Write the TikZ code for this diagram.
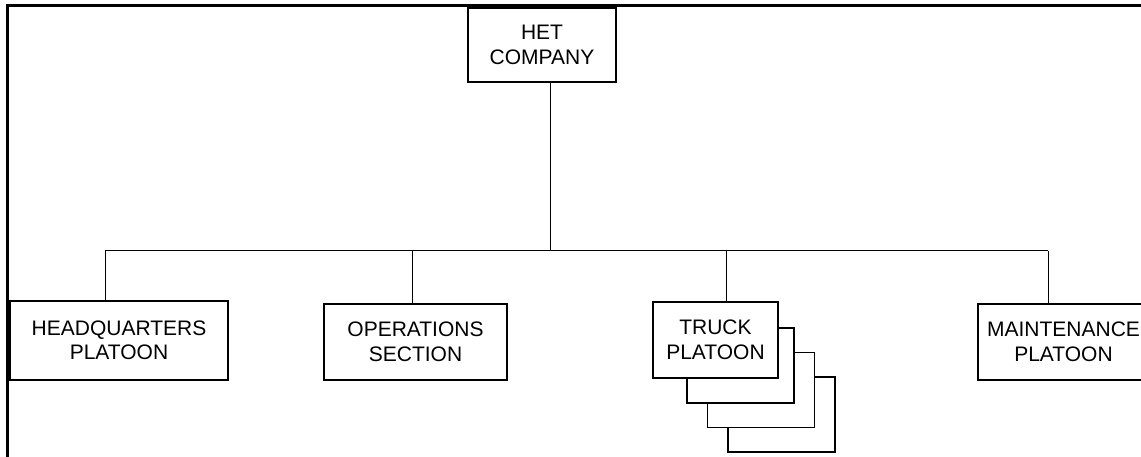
\documentclass[tikz,border=0pt]{standalone}
\usepackage{fontspec}
\setmainfont{Liberation Sans}

\begin{document}
\begin{tikzpicture}[x=1pt,y=-1pt,
    unit/.style={draw,line width=1.5pt,fill=white,inner sep=0pt,align=center,
      font=\fontsize{21}{24.5}\selectfont},
    sheet/.style={draw,line width=1.5pt,fill=white},
    link/.style={line width=1pt}]
    \useasboundingbox (0,0) rectangle (1141,456);
    \clip (0,0) rectangle (1141,456);

    % Frame
    \draw[line width=2.7pt] (7.3,5.3) rectangle (1200,520);

    % Bus and taps
    \coordinate (bus) at (550,250.5);
    \foreach \n/\x in {hq/105,ops/412,truck/726,maint/1048} {
      \coordinate (\n-tap) at (\x,250.5);
    }
    \draw[link] (hq-tap) -- (maint-tap);

    % Company
    \node[unit,minimum width=148pt,minimum height=74pt] (het) at (542,45) {HET\\COMPANY};
    \draw[link] (het.south -| bus) -- (bus);

    % Platoons and section
    \node[unit,minimum width=218pt,minimum height=79pt] (hq) at (119,340.5) {HEADQUARTERS\\PLATOON};
    \node[unit,minimum width=183pt,minimum height=76pt] (ops) at (415.5,342) {OPERATIONS\\SECTION};

    \foreach \dx/\dy in {41/49,20.5/24.5,0/0} {
      \draw[sheet] (687+\dx,328+\dy) rectangle ++(107,75);
    }
    \node[unit,minimum width=125pt,minimum height=76pt] (truck) at (715.5,340) {TRUCK\\PLATOON};
    \node[unit,minimum width=171pt,minimum height=76pt] (maint) at (1063.5,342) {MAINTENANCE\\PLATOON};

    \foreach \n in {hq,ops,truck,maint} {
      \draw[link] (\n-tap) -- (\n-tap |- \n.north);
    }
\end{tikzpicture}
\end{document}
